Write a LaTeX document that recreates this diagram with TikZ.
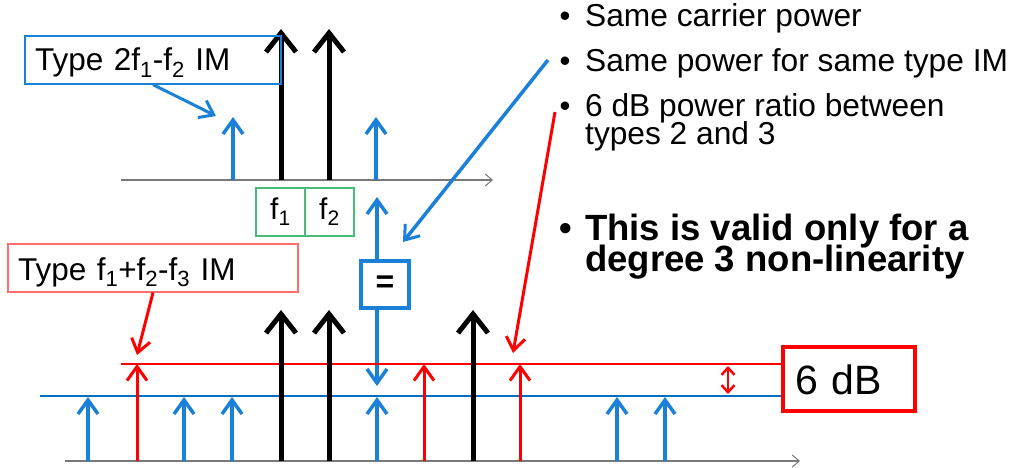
\documentclass[tikz,border=0pt]{standalone}
\usepackage{fontspec}
\setmainfont{Liberation Sans}
\usetikzlibrary{arrows.meta}
\definecolor{barr}{RGB}{26,128,216}
\definecolor{bline}{RGB}{0,112,192}
\definecolor{rarr}{RGB}{255,0,0}
\definecolor{gbox}{RGB}{70,190,120}
\definecolor{lred}{RGB}{255,110,110}
\definecolor{axgray}{RGB}{120,120,120}
\begin{document}
\begin{tikzpicture}[x=1pt,y=-1pt,
  carrier/.style={black, line width=5pt, -{Straight Barb[length=19pt,width=30pt,line width=5pt]}},
  imb/.style={barr, line width=3.5pt, -{Straight Barb[length=14pt,width=20pt,line width=3.5pt]}},
  imr/.style={rarr, line width=3pt, -{Straight Barb[length=14pt,width=20pt,line width=3pt]}},
  pointer/.style={line width=3pt, -{Straight Barb[length=13pt,width=19pt,line width=3pt]}},
  axisline/.style={axgray, line width=1.5pt, -{Straight Barb[length=7pt,width=12pt,line width=1pt]}},
  lvl/.style={line width=2pt},
  lbl/.style={font=\fontsize{31.7}{31.7}\selectfont, inner sep=0pt},
  bold/.style={font=\fontsize{36.5}{36.5}\selectfont\bfseries, inner sep=0pt},
  bul/.style={font=\fontsize{31}{31}\selectfont, inner sep=0pt, anchor=base}
]
\useasboundingbox (0,0) rectangle (1015,468);
\fill[white] (0,0) rectangle (1015,468);

% ---------- top spectrum ----------
\draw[axisline] (121,180) -- (493,180);
\draw[imb] (233,180) -- (233,117);
\draw[imb] (376,180) -- (376,117);
\draw[carrier] (281,180) -- (281,29);
\draw[carrier] (329,180) -- (329,29);

\node (f1) [draw=gbox, line width=1.2pt, minimum width=49pt, minimum height=48pt,
  font=\fontsize{30}{30}\selectfont, inner sep=0pt] at (280.5,212) {f\textsubscript{1}};
\node (f2) [draw=gbox, line width=1.2pt, minimum width=49pt, minimum height=48pt,
  font=\fontsize{30}{30}\selectfont, inner sep=0pt] at (329.5,212) {f\textsubscript{2}};

\node (t2) [draw=barr, line width=1.2pt, minimum width=256pt, minimum height=48pt,
  text width=236pt, align=left, inner xsep=10pt, text height=22pt, text depth=0pt,
  font=\fontsize{31.5}{31.5}\selectfont] at (153,60) {Type 2f\textsubscript{1}-f\textsubscript{2} IM};
\coordinate (t2tip) at (216,116);
\draw[barr, pointer] (t2.south) -- (t2tip);

% ---------- equality box ----------
\node (eq) [draw=barr, line width=4pt, minimum width=48pt, minimum height=47pt,
  font=\fontsize{32}{32}\selectfont\bfseries, inner sep=0pt] at (385,284) {=\hspace{8pt}};
\coordinate (equp) at (377,197);
\coordinate (eqdn) at (377,386);
\draw[imb] (eq.north -| equp) -- (equp);
\draw[imb] (eq.south -| eqdn) -- (eqdn);

% ---------- bottom spectrum ----------
\draw[rarr, lvl] (121,364) -- (783,364);
\draw[bline, lvl] (40,396) -- (783,396);
\draw[axisline] (65,461) -- (800,461);
\foreach \x in {88,184,232,377,617,665} \draw[imb] (\x,461) -- (\x,397);
\foreach \x in {137,424,520} \draw[imr] (\x,461) -- (\x,364);
\foreach \x in {281,329,473} \draw[carrier] (\x,461) -- (\x,310);
\draw[rarr, line width=2.5pt, {Straight Barb[length=7pt,width=13pt,line width=2.5pt]}-{Straight Barb[length=7pt,width=13pt,line width=2.5pt]}] (728,366) -- (728,394);

\node (db) [draw=rarr, line width=4pt, minimum width=132pt, minimum height=64pt,
  text width=108pt, align=left, inner xsep=12pt, text height=30pt, text depth=0pt,
  font=\fontsize{41}{41}\selectfont] at (849,379) {6 dB};

\node (t3) [draw=lred, line width=1.2pt, minimum width=290pt, minimum height=48pt,
  text width=270pt, align=left, inner xsep=10pt, text height=24pt, text depth=0pt,
  font=\fontsize{31.5}{31.5}\selectfont] at (153,268) {Type f\textsubscript{1}+f\textsubscript{2}-f\textsubscript{3} IM};
\coordinate (t3tip) at (137,355);
\draw[rarr, pointer] (t3.south) -- (t3tip);

% ---------- bullet text ----------
\node (b1) [bul] at (565,27) {•};
\node (s1) [lbl, anchor=base west] at (585,27) {Same carrier power};
\node (b2) [bul] at (565,72) {•};
\node (s2) [lbl, anchor=base west] at (585,72) {Same power for same type IM};
\node (b3) [bul] at (565,117) {•};
\node (s3) [lbl, anchor=base west] at (585,117) {6 dB power ratio between};
\node (s3b) [lbl, anchor=base west] at (585,145) {types 2 and 3};
\node (b4) [bul, font=\fontsize{36}{36}\selectfont\bfseries] at (566,240) {•};
\node (s4) [bold, anchor=base west] at (585,240) {This is valid only for a};
\node (s4b) [bold, anchor=base west] at (585,271) {degree 3 non-linearity};

\coordinate (bstart) at (548,60);
\coordinate (bend) at (403,242);
\draw[barr, pointer, line width=3.5pt] (bstart) -- (bend);
\coordinate (rstart) at (555,112);
\coordinate (rend) at (513,353);
\draw[rarr, pointer] (rstart) -- (rend);
\end{tikzpicture}
\end{document}
